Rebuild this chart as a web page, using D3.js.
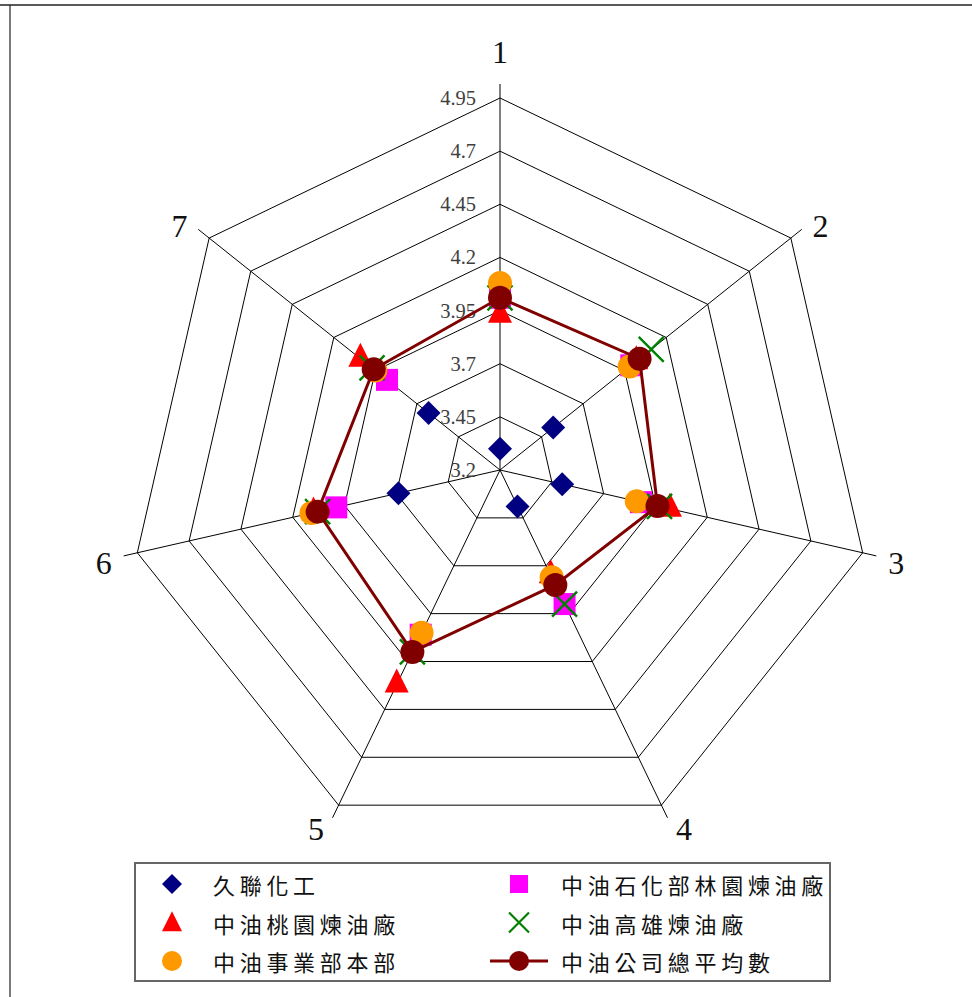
<!DOCTYPE html>
<html><head><meta charset="utf-8">
<script src="https://cdn.jsdelivr.net/npm/d3@7"></script>
<style>body{margin:0;background:#fff}svg{display:block}</style>
</head><body>
<script>
const axes = ["1","2","3","4","5","6","7"];
const ticks = [3.2, 3.45, 3.7, 3.95, 4.2, 4.45, 4.7, 4.95];
const seriesNames = ["久聯化工","中油石化部林園煉油廠","中油桃園煉油廠","中油高雄煉油廠","中油事業部本部","中油公司總平均數"];
const jiulian   = [3.30, 3.52, 3.50, 3.39, null, 3.69, 3.63];
const linyuan   = [4.01, 3.99, 3.88, 3.90, 4.06, 3.99, 3.88];
const taoyuan   = [3.93, 4.02, 4.02, 3.75, 4.32, 4.10, 4.04];
const kaohsiung = [4.01, 4.11, 3.97, 3.90, 4.15, 4.08, 3.97];
const hq        = [4.08, 3.98, 3.86, 3.76, 4.05, 4.11, 3.95];
const average   = [4.01, 4.04, 3.96, 3.80, 4.15, 4.08, 3.96];

const W = 972, H = 997, cx = 500, cy = 470, R = 372;
const svg = d3.select("body").append("svg").attr("width", W).attr("height", H);

// frame
svg.append("line").attr("x1",0).attr("x2",W).attr("y1",5).attr("y2",5).attr("stroke","#222").attr("stroke-width",1.5);
svg.append("line").attr("x1",10).attr("x2",10).attr("y1",5).attr("y2",H).attr("stroke","#222").attr("stroke-width",1.2);

const r = d3.scaleLinear().domain([ticks[0], ticks[ticks.length-1]]).range([0, R]);
const ang = d3.scaleLinear().domain([0, axes.length]).range([0, 2*Math.PI]);
const pt = (i, rad) => [cx + rad*Math.sin(ang(i)), cy - rad*Math.cos(ang(i))];

const g = svg.append("g");
// rings
ticks.slice(1).forEach(t => {
  const pts = axes.map((_, i) => pt(i, r(t)));
  g.append("path").attr("d", d3.line()(pts) + "Z").attr("fill","none").attr("stroke","#000").attr("stroke-width",1);
});
// spokes
axes.forEach((a, i) => {
  const [x2, y2] = pt(i, R + 14);
  g.append("line").attr("x1",cx).attr("y1",cy).attr("x2",x2).attr("y2",y2).attr("stroke","#000").attr("stroke-width",1);
});
// tick labels
ticks.forEach(t => {
  g.append("text").attr("x", cx - 24).attr("y", cy - r(t)).attr("text-anchor","end")
    .attr("dominant-baseline","central").attr("font-family","'Liberation Serif', serif")
    .attr("font-size",20.5).attr("fill","#404040").text(t);
});
// axis labels
axes.forEach((a, i) => {
  const s = Math.sin(ang(i)), c = Math.cos(ang(i));
  const [vx, vy] = pt(i, R);
  const sx = Math.abs(s) < 0.01 ? 0 : Math.sign(s);
  const x = vx + s*20 + sx*14;
  const y = vy - c*20 + 5.5 - 31.5*Math.pow(Math.max(0, c), 4);
  g.append("text").attr("x", x).attr("y", y).attr("text-anchor","middle").attr("dominant-baseline","central")
    .attr("font-family","'Liberation Serif', serif").attr("font-size",32).attr("fill","#111").text(a);
});

// marker shapes
function diamond(s){ const h=s/2; return `M0,${-h}L${h},0L0,${h}L${-h},0Z`; }
function square(s){ const h=s/2; return `M${-h},${-h}H${h}V${h}H${-h}Z`; }
function triangle(s){ const h=s/2; return `M0,${-h*4/3}L${h},${h*2/3}L${-h},${h*2/3}Z`; }
function cross(s){ const h=s/2; return `M${-h},${-h}L${h},${h}M${h},${-h}L${-h},${h}`; }
function circle(s){ const h=s/2; return `M${h},0A${h},${h},0,1,1,${-h},0A${h},${h},0,1,1,${h},0Z`; }

const series = [
  {name: seriesNames[0], vals: jiulian,   shape: diamond,  size: 24, lsize: 20, fill: "#000080"},
  {name: seriesNames[1], vals: linyuan,   shape: square,   size: 22, lsize: 18, fill: "#FF00FF"},
  {name: seriesNames[2], vals: taoyuan,   shape: triangle, size: 24, lsize: 20, fill: "#FF0000"},
  {name: seriesNames[3], vals: kaohsiung, shape: cross,    size: 25, lsize: 20, stroke: "#008000"},
  {name: seriesNames[4], vals: hq,        shape: circle,   size: 24, lsize: 20, fill: "#FF9900"},
  {name: seriesNames[5], vals: average,   shape: circle,   size: 24, lsize: 20, fill: "#800000", line: true}
];

series.forEach(s => {
  const pts = s.vals.map((v, i) => v == null ? null : pt(i, r(v)));
  if (s.line) {
    const valid = pts.filter(p => p);
    g.append("path").attr("d", d3.line()(valid) + "Z").attr("fill","none").attr("stroke","#800000").attr("stroke-width",3);
  }
  pts.forEach(p => {
    if (!p) return;
    g.append("path").attr("d", s.shape(s.size)).attr("transform", `translate(${p[0]},${p[1]})`)
      .attr("fill", s.fill || "none").attr("stroke", s.stroke || "none").attr("stroke-width", s.stroke ? 2.4 : 0);
  });
});

// legend
const lg = svg.append("g");
lg.append("rect").attr("x",135).attr("y",863).attr("width",695).attr("height",118)
  .attr("fill","#fff").attr("stroke","#666").attr("stroke-width",2);
const legendOrder = [0, 2, 4, 1, 3, 5];
legendOrder.forEach((si, k) => {
  const s = series[si];
  const col = Math.floor(k / 3), row = k % 3;
  const mx = col === 0 ? 172 : 519, tx = col === 0 ? 213 : 561, y = 884 + row*38.5;
  if (s.line) {
    lg.append("line").attr("x1", mx-29).attr("x2", mx+29).attr("y1", y).attr("y2", y).attr("stroke","#800000").attr("stroke-width",3);
  }
  lg.append("path").attr("d", s.shape(s.lsize))
    .attr("transform", `translate(${mx},${y + (s.shape === triangle ? 2 : 0)})`)
    .attr("fill", s.fill || "none").attr("stroke", s.stroke || "none").attr("stroke-width", s.stroke ? 2.2 : 0);
  lg.append("text").attr("x", tx).attr("y", y).attr("dominant-baseline","central")
    .attr("font-family","'Noto Sans CJK TC', sans-serif").attr("font-size",22).attr("letter-spacing",4.7)
    .attr("fill","#111").text(s.name);
});
</script>
</body></html>
